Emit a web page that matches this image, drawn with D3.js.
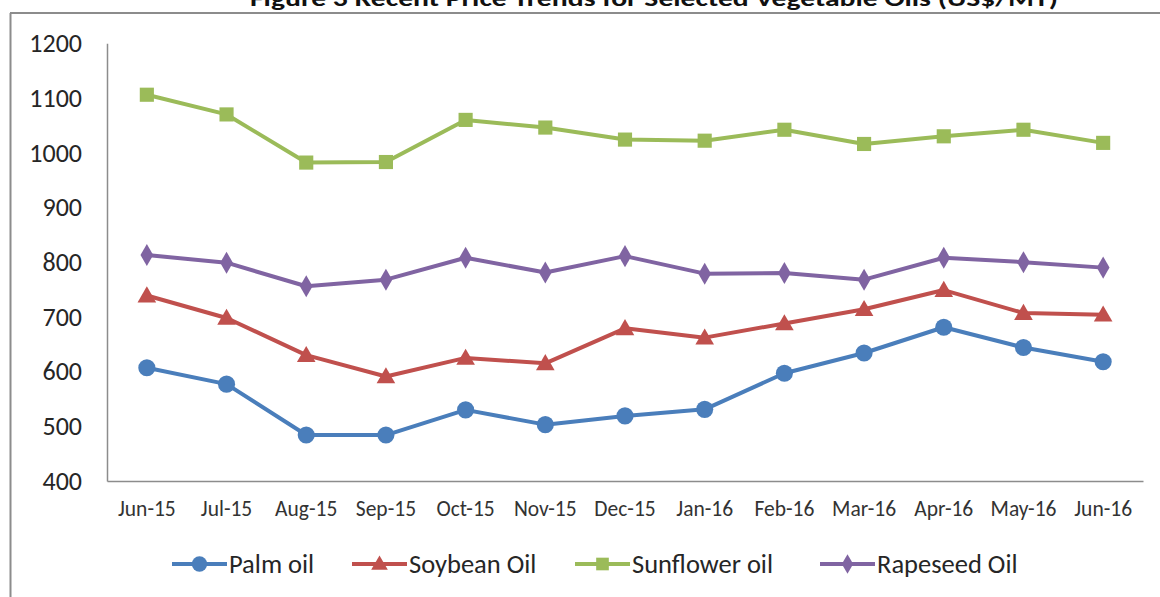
<!DOCTYPE html>
<html>
<head>
<meta charset="utf-8">
<script src="https://cdn.jsdelivr.net/npm/d3@7"></script>
<style>
  html, body { margin: 0; padding: 0; background: #fff; }
  svg { display: block; }
</style>
</head>
<body>
<svg id="chart" width="1160" height="597"></svg>
<script>
const title = "Figure 3 Recent Price Trends for Selected Vegetable Oils (US$/MT)";
const months = ["Jun-15","Jul-15","Aug-15","Sep-15","Oct-15","Nov-15","Dec-15","Jan-16","Feb-16","Mar-16","Apr-16","May-16","Jun-16"];
const yTicks = [400, 500, 600, 700, 800, 900, 1000, 1100, 1200];
const seriesNames = ["Palm oil", "Soybean Oil", "Sunflower oil", "Rapeseed Oil"];
const palmOil     = [607, 577, 484, 484, 530, 503, 519, 531, 597, 634, 681, 644, 618];
const soybeanOil  = [739, 698, 630, 591, 625, 615, 679, 662, 688, 714, 749, 707, 704];
const sunflowerOil= [1106, 1070, 982, 983, 1060, 1046, 1024, 1022, 1042, 1016, 1030, 1042, 1018];
const rapeseedOil = [813, 799, 756, 768, 808, 781, 811, 779, 780, 768, 808, 800, 790];

const seriesValues = [palmOil, soybeanOil, sunflowerOil, rapeseedOil];
const colors = ["#4A7EBB", "#C0504D", "#9BBB59", "#8064A2"];
const shapes = [d3.symbolCircle, d3.symbolTriangle, d3.symbolSquare, d3.symbolDiamond];
const markerSizes = [230, 150, 200, 140];
const FONT = "Carlito, Calibri, Lato, sans-serif";

const svg = d3.select("#chart");

// outer frame
svg.append("line").attr("x1", 10.5).attr("x2", 10.5).attr("y1", 13).attr("y2", 597)
  .attr("stroke", "#8c8c8c").attr("stroke-width", 2);
svg.append("line").attr("x1", 10).attr("x2", 1160).attr("y1", 13).attr("y2", 13)
  .attr("stroke", "#8c8c8c").attr("stroke-width", 2);

// title (cut off at top, as in the reference)
svg.append("text")
  .attr("x", 654).attr("y", 6)
  .attr("text-anchor", "middle")
  .attr("font-family", FONT)
  .attr("font-weight", "bold")
  .attr("font-size", 22)
  .attr("fill", "#111")
  .attr("textLength", 808)
  .attr("lengthAdjust", "spacingAndGlyphs")
  .text(title);

const plotLeft = 107, plotRight = 1143, plotTop = 43.3, plotBottom = 481;

const x = d3.scaleBand().domain(months).range([plotLeft, plotRight]).paddingInner(0).paddingOuter(0);
const y = d3.scaleLinear().domain([400, 1200]).range([plotBottom, plotTop]);
const cx = m => x(m) + x.bandwidth() / 2;

// axes
const yAxis = d3.axisLeft(y).tickValues(yTicks).tickFormat(d3.format("d")).tickSize(0).tickPadding(25);
const gy = svg.append("g").attr("transform", `translate(${plotLeft},0)`).call(yAxis);
gy.select(".domain").attr("stroke", "#8c8c8c").attr("stroke-width", 1.5);
gy.attr("font-family", FONT).attr("font-size", 26);
gy.selectAll("text").attr("fill", "#262626");

const xAxis = d3.axisBottom(x).tickSize(0).tickPadding(20);
const gx = svg.append("g").attr("transform", `translate(0,${plotBottom})`).call(xAxis);
gx.select(".domain").attr("stroke", "#8c8c8c").attr("stroke-width", 1.5);
gx.attr("font-family", FONT).attr("font-size", 21.5);
gx.selectAll("text").attr("fill", "#333");

// series
const line = d3.line().x((d, i) => cx(months[i])).y(d => y(d));
seriesValues.forEach((vals, s) => {
  const g = svg.append("g");
  g.append("path").datum(vals).attr("d", line)
    .attr("fill", "none").attr("stroke", colors[s]).attr("stroke-width", 4)
    .attr("stroke-linejoin", "round");
  g.selectAll("path.mk").data(vals).enter().append("path").attr("class", "mk")
    .attr("d", d3.symbol().type(shapes[s]).size(markerSizes[s]))
    .attr("transform", (d, i) => `translate(${cx(months[i])},${y(d) + (s === 1 ? 1.5 : 0)})`)
    .attr("fill", colors[s]);
});

// legend
const legendX = [172, 352, 575, 820];
const legendY = 564;
seriesNames.forEach((name, s) => {
  const g = svg.append("g").attr("transform", `translate(${legendX[s]},${legendY})`);
  g.append("line").attr("x1", 0).attr("x2", 55).attr("y1", 0).attr("y2", 0)
    .attr("stroke", colors[s]).attr("stroke-width", 4);
  g.append("path").attr("d", d3.symbol().type(shapes[s]).size(markerSizes[s] * 0.8))
    .attr("transform", `translate(27.5,${s === 1 ? 1 : 0})`).attr("fill", colors[s]);
  g.append("text").attr("x", 57).attr("y", 8.5)
    .attr("font-family", FONT).attr("font-size", 26.5).attr("fill", "#262626").text(name);
});
</script>
</body>
</html>
